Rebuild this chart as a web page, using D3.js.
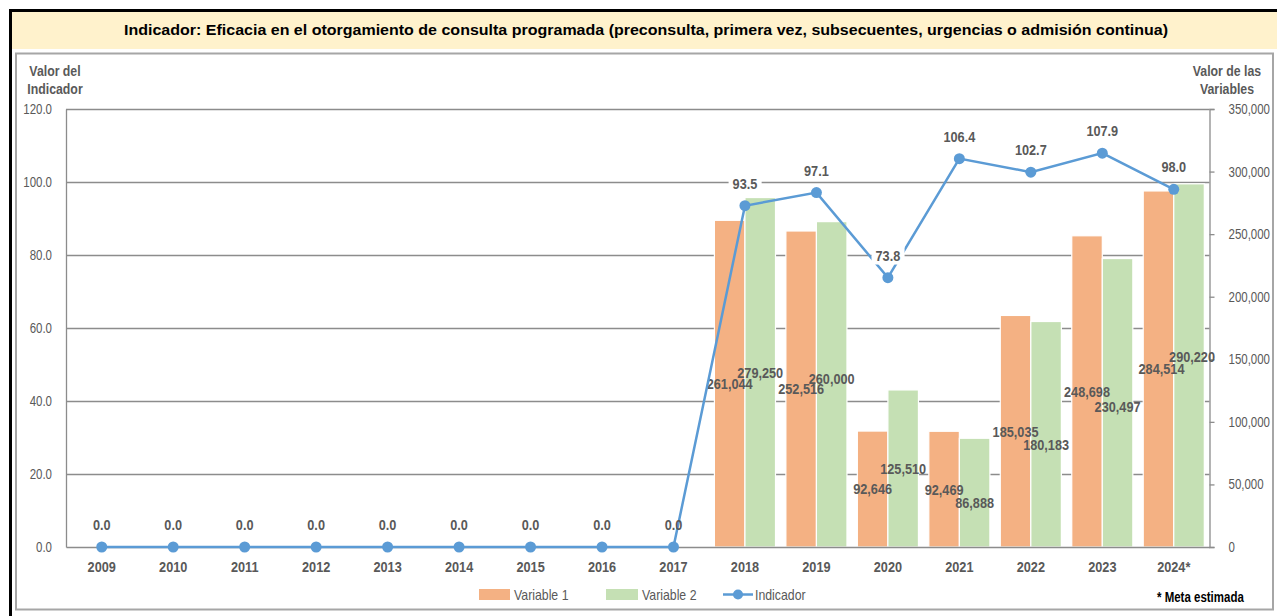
<!DOCTYPE html>
<html><head><meta charset="utf-8">
<script src="https://cdn.jsdelivr.net/npm/d3@7"></script>
<style>
html,body{margin:0;padding:0;background:#fff;}
svg{display:block;}
</style></head>
<body>
<svg id="c" width="1277" height="616"></svg>
<script>
const years = ["2009","2010","2011","2012","2013","2014","2015","2016","2017","2018","2019","2020","2021","2022","2023","2024*"];
const barYears = ["2018","2019","2020","2021","2022","2023","2024*"];
const variable1 = [261044,252516,92646,92469,185035,248698,284514];
const variable2 = [279250,260000,125510,86888,180183,230497,290220];
const indicador = [0,0,0,0,0,0,0,0,0,93.5,97.1,73.8,106.4,102.7,107.9,98.0];
const leftTicks = [0,20,40,60,80,100,120];
const rightTicks = [0,50000,100000,150000,200000,250000,300000,350000];
const titleText = "Indicador: Eficacia en el otorgamiento de consulta programada (preconsulta, primera vez, subsecuentes, urgencias o admisión continua)";

const svg = d3.select("#c");
const C1 = "#F4B183", C2 = "#C5E0B4", CL = "#5B9BD5", TXT = "#595959", GRID = "#8C8C8C";
const NAR = '"Liberation Sans Narrow","Arial Narrow","Liberation Sans",Arial,sans-serif';
const SQ = 0.82; // Arial Narrow is ~82% the width of Arial

function narrow(sel){
  sel.each(function(){
    const w = this.getComputedTextLength();
    if (w>0) d3.select(this).attr("textLength", w*SQ).attr("lengthAdjust","spacingAndGlyphs");
  });
  return sel;
}

// frame
svg.append("rect").attr("x",0).attr("y",0).attr("width",1277).attr("height",616).attr("fill","#fff");
svg.append("rect").attr("x",12).attr("y",12).attr("width",1265).attr("height",37).attr("fill","#FFF2CC");
svg.append("line").attr("x1",9).attr("x2",1277).attr("y1",10.5).attr("y2",10.5).attr("stroke","#000").attr("stroke-width",3);
svg.append("line").attr("x1",10.5).attr("x2",10.5).attr("y1",9).attr("y2",616).attr("stroke","#000").attr("stroke-width",3);
svg.append("text").attr("x",646).attr("y",35).attr("text-anchor","middle")
  .attr("font-family","'Liberation Sans',Arial,sans-serif").attr("font-weight","bold").attr("font-size",15.5)
  .attr("fill","#000").attr("textLength",1044).attr("lengthAdjust","spacingAndGlyphs").text(titleText);
svg.append("rect").attr("x",16).attr("y",53.5).attr("width",1257).attr("height",556).attr("fill","#fff")
  .attr("stroke","#A6A6A6").attr("stroke-width",2);

const X0 = 66, X1 = 1209.5, Y0 = 109, Y1 = 547;
const x = d3.scaleBand().domain(years).range([X0, X1]).padding(0);
const xs = d3.scaleBand().domain(["v1","v2"]).range([0, x.bandwidth()]).paddingInner(0).paddingOuter(0.17);
const yL = d3.scaleLinear().domain([0,120]).range([Y1, Y0]);
const yR = d3.scaleLinear().domain([0,350000]).range([Y1, Y0]);

// gridlines
svg.append("g").selectAll("line").data(leftTicks.filter(d=>d>0)).join("line")
  .attr("x1",X0).attr("x2",X1).attr("y1",d=>yL(d)+0.5).attr("y2",d=>yL(d)+0.5)
  .attr("stroke",GRID).attr("stroke-width",1.3);

// bars
const barData = [];
barYears.forEach((yr,i)=>{
  barData.push({yr, k:"v1", v:variable1[i]});
  barData.push({yr, k:"v2", v:variable2[i]});
});
const gb = svg.append("g");
gb.selectAll("rect").data(barData).join("rect")
  .attr("x",d=>x(d.yr)+xs(d.k)).attr("width",xs.bandwidth())
  .attr("y",d=>yR(d.v)).attr("height",d=>Y1-yR(d.v))
  .attr("fill",d=>d.k==="v1"?C1:C2).attr("stroke","#fff").attr("stroke-width",1.2);

// axes
const axL = svg.append("g").attr("transform",`translate(${X0},0)`)
  .call(d3.axisLeft(yL).tickValues(leftTicks).tickFormat(d3.format(".1f")).tickSize(0).tickPadding(14));
axL.select(".domain").attr("stroke",GRID).attr("stroke-width",1.3);
narrow(axL.selectAll("text").attr("font-family",NAR).attr("font-size",14).attr("fill",TXT));

const axR = svg.append("g").attr("transform",`translate(${X1},0)`)
  .call(d3.axisRight(yR).tickValues(rightTicks).tickFormat(d3.format(",")).tickSize(5).tickPadding(14));
axR.select(".domain").attr("stroke",GRID).attr("stroke-width",1.3);
axR.selectAll(".tick line").attr("stroke",GRID).attr("stroke-width",1.3);
narrow(axR.selectAll("text").attr("font-family",NAR).attr("font-size",14).attr("fill",TXT));

const axB = svg.append("g").attr("transform",`translate(0,${Y1})`)
  .call(d3.axisBottom(x).tickSize(0).tickPadding(14));
axB.select(".domain").attr("stroke",GRID).attr("stroke-width",1.3);
narrow(axB.selectAll("text").attr("font-family",NAR).attr("font-size",15.5).attr("font-weight","bold").attr("fill",TXT));

// bar labels (centred in bar; a few nudged vertically as in the original to reduce overlap)
const nudge = {"2019v2":-6, "2021v2":10, "2022v2":10, "2023v2":4, "2024*v2":-9};
narrow(svg.append("g").selectAll("text").data(barData).join("text")
  .attr("x",d=>x(d.yr)+xs(d.k)+xs.bandwidth()/2 + (d.yr==="2024*"?3:0))
  .attr("y",d=>(yR(d.v)+Y1)/2 + (nudge[d.yr+d.k]||0)).attr("dy","0.35em").attr("text-anchor","middle")
  .attr("font-family",NAR).attr("font-size",15.5).attr("font-weight","bold").attr("fill",TXT)
  .text(d=>d3.format(",")(d.v)));

// indicator line
const pts = years.map((yr,i)=>({yr, v:indicador[i], cx:x(yr)+x.bandwidth()/2, cy:yL(indicador[i])}));
svg.append("path").datum(pts).attr("fill","none").attr("stroke",CL).attr("stroke-width",2.5)
  .attr("d",d3.line().x(d=>d.cx).y(d=>d.cy));
svg.append("g").selectAll("circle").data(pts).join("circle")
  .attr("cx",d=>d.cx).attr("cy",d=>d.cy).attr("r",5.5).attr("fill",CL);

// indicator labels with white background
const lg = svg.append("g");
pts.forEach(p=>{
  const ly = p.cy - 22.5;
  const g = lg.append("g");
  const t = g.append("text").attr("x",p.cx).attr("y",ly).attr("dy","0.35em").attr("text-anchor","middle")
    .attr("font-family",NAR).attr("font-size",15.5).attr("font-weight","bold").attr("fill",TXT)
    .text(d3.format(".1f")(p.v));
  narrow(t);
  if (p.v>0){
    const bb = t.node().getBBox();
    g.insert("rect","text").attr("x",bb.x-4).attr("y",bb.y-1).attr("width",bb.width+8).attr("height",bb.height+2).attr("fill","#fff");
  }
});

// axis titles
function twoLines(xc, lines){
  lines.forEach((s,i)=>narrow(svg.append("text").attr("x",xc).attr("y",76+i*18).attr("text-anchor","middle")
    .attr("font-family",NAR).attr("font-size",15).attr("font-weight","bold").attr("fill",TXT).text(s)));
}
twoLines(55,["Valor del","Indicador"]);
twoLines(1227,["Valor de las","Variables"]);

// legend
const leg = svg.append("g").attr("font-family",NAR).attr("font-size",15).attr("fill",TXT);
leg.append("rect").attr("x",479).attr("y",589).attr("width",31).attr("height",11).attr("fill",C1);
narrow(leg.append("text").attr("x",514).attr("y",599.5).text("Variable 1"));
leg.append("rect").attr("x",606).attr("y",589).attr("width",32).attr("height",11).attr("fill",C2);
narrow(leg.append("text").attr("x",642).attr("y",599.5).text("Variable 2"));
leg.append("line").attr("x1",723).attr("x2",753).attr("y1",594.5).attr("y2",594.5).attr("stroke",CL).attr("stroke-width",2.5);
leg.append("circle").attr("cx",738).attr("cy",594.5).attr("r",5).attr("fill",CL);
narrow(leg.append("text").attr("x",755).attr("y",599.5).text("Indicador"));
narrow(svg.append("text").attr("x",1157).attr("y",602).attr("font-family",NAR).attr("font-size",14).attr("font-weight","bold")
  .attr("fill","#000").text("* Meta estimada"));
</script>
</body></html>
